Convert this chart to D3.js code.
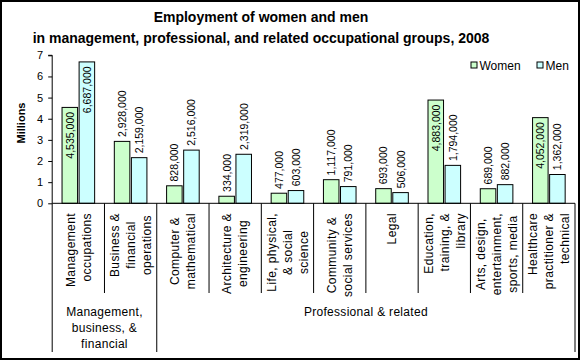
<!DOCTYPE html>
<html>
<head>
<meta charset="utf-8">
<script src="https://cdn.jsdelivr.net/npm/d3@7"></script>
<style>
  html, body { margin: 0; padding: 0; background: #fff; }
  svg { display: block; font-family: "Liberation Sans", Arial, sans-serif; }
</style>
</head>
<body>
<svg id="chart" width="580" height="360"></svg>
<script>
// ---- data ----
const categories = [
  ["Management", "occupations"],
  ["Business &", "financial", "operations"],
  ["Computer &", "mathematical"],
  ["Architecture &", "engineering"],
  ["Life, physical,", "& social", "science"],
  ["Community &", "social services"],
  ["Legal"],
  ["Education,", "training, &", "library"],
  ["Arts, design,", "entertainment,", "sports, media"],
  ["Healthcare", "practitioner &", "technical"]
];
const series = ["Women", "Men"];
const women = [4535000, 2928000, 828000, 334000, 477000, 1117000, 693000, 4883000, 689000, 4052000];
const men   = [6687000, 2159000, 2516000, 2319000, 603000, 791000, 506000, 1794000, 882000, 1362000];
const groups = [
  { lines: ["Management,", "business, &", "financial"], from: 0, to: 2 },
  { lines: ["Professional & related"], from: 2, to: 10 }
];
const yTicks = [0, 1, 2, 3, 4, 5, 6, 7];
const titleLines = ["Employment of women and men",
  "in management, professional, and related occupational groups, 2008"];
const yTitle = "Millions";

// ---- layout ----
const svg = d3.select("#chart");
const colors = { Women: "#ccffcc", Men: "#ccffff" };
const pLeft = 52.2, pRight = 575, pTop = 55.3, pBottom = 203.3;

svg.append("rect").attr("x", 1).attr("y", 1).attr("width", 578).attr("height", 358)
  .attr("fill", "#fff").attr("stroke", "#000").attr("stroke-width", 2);

const x0 = d3.scaleBand().domain(d3.range(categories.length)).range([pLeft, pRight]).padding(0);
const cw = x0.bandwidth();
const x1 = d3.scaleBand().domain(series).range([cw / 2 - 16.3, cw / 2 + 16.3]).paddingInner(0.09);
const y = d3.scaleLinear().domain([0, 7]).range([pBottom, pTop]);

// title
svg.append("g").selectAll("text").data(titleLines).join("text")
  .attr("x", 261).attr("y", (d, i) => 22 + i * 21)
  .attr("text-anchor", "middle").attr("font-weight", "bold").attr("font-size", "14px")
  .text(d => d);

// y axis
const yAxis = svg.append("g").attr("transform", `translate(${pLeft},0)`)
  .call(d3.axisLeft(y).tickValues(yTicks).tickSize(4).tickPadding(5).tickFormat(d3.format("d")));
yAxis.select(".domain").attr("stroke", "#000").attr("d", `M-4,${pTop}H0V${pBottom}`);
yAxis.selectAll(".tick line").attr("stroke", "#000");
yAxis.selectAll(".tick text").attr("font-size", "11px").attr("fill", "#000")
  .attr("font-family", "'Liberation Sans', Arial, sans-serif");

svg.append("text").attr("transform", `translate(25,123) rotate(-90)`)
  .attr("text-anchor", "middle").attr("font-weight", "bold").attr("font-size", "11px")
  .text(yTitle);

// bars
const rows = categories.map((c, i) => ({ i, values: [
  { key: "Women", v: women[i] }, { key: "Men", v: men[i] }] }));
const cat = svg.append("g").selectAll("g").data(rows).join("g")
  .attr("transform", d => `translate(${x0(d.i)},0)`);
cat.selectAll("rect").data(d => d.values).join("rect")
  .attr("x", d => x1(d.key)).attr("width", x1.bandwidth())
  .attr("y", d => y(d.v / 1e6)).attr("height", d => y(0) - y(d.v / 1e6))
  .attr("fill", d => colors[d.key]).attr("stroke", "#000").attr("stroke-width", 1);

// value labels
const fmt = d3.format(",");
cat.selectAll("text.val").data(d => d.values).join("text").attr("class", "val")
  .attr("font-size", "10.5px")
  .attr("transform", d => {
    const cx = x1(d.key) + x1.bandwidth() / 2 + 4;
    const inside = d.v > 3500000;
    return `translate(${cx},${y(d.v / 1e6) + (inside ? 4.5 : -4.3)}) rotate(-90)`;
  })
  .attr("text-anchor", d => d.v > 3500000 ? "end" : "start")
  .text(d => fmt(d.v));

// x axis line
svg.append("line").attr("x1", pLeft).attr("x2", pRight).attr("y1", pBottom).attr("y2", pBottom)
  .attr("stroke", "#000");

// dividers
const groupBounds = new Set(groups.flatMap(g => [g.from, g.to]));
d3.range(categories.length + 1).forEach(k => {
  const xx = k < categories.length ? x0(k) : pRight;
  svg.append("line").attr("x1", xx).attr("x2", xx).attr("y1", pBottom)
    .attr("y2", groupBounds.has(k) ? 352 : 293).attr("stroke", "#000");
});

// category labels
const endAligned = new Set([0, 7, 9]);
categories.forEach((lines, i) => {
  const cx = x0(i) + cw / 2;
  const n = lines.length;
  const g = svg.append("g");
  const texts = lines.map((l, k) => g.append("text").attr("font-size", "12px")
    .attr("letter-spacing", "0.4px").text(l));
  const widths = texts.map(t => t.node().getComputedTextLength());
  const maxW = d3.max(widths);
  texts.forEach((t, k) => {
    const lx = cx + (k - (n - 1) / 2) * 16 + 4.3;
    if (endAligned.has(i) || n === 1) {
      t.attr("text-anchor", "end").attr("transform", `translate(${lx},213) rotate(-90)`);
    } else {
      t.attr("text-anchor", "middle").attr("transform", `translate(${lx},${213 + maxW / 2}) rotate(-90)`);
    }
  });
});

// group labels
groups.forEach(gr => {
  const xa = x0(gr.from), xb = gr.to < categories.length ? x0(gr.to) : pRight;
  svg.append("g").selectAll("text").data(gr.lines).join("text")
    .attr("x", (xa + xb) / 2).attr("y", (d, k) => 316 + k * 16)
    .attr("text-anchor", "middle").attr("font-size", "12px").attr("letter-spacing", "0.3px")
    .text(d => d);
});

// legend
const lg = svg.append("g").selectAll("g").data(series).join("g")
  .attr("transform", (d, i) => `translate(${[471, 537][i]},62)`);
lg.append("rect").attr("width", 6).attr("height", 6).attr("fill", d => colors[d])
  .attr("stroke", "#000").attr("stroke-width", 1);
lg.append("text").attr("x", 8.5).attr("y", 7.5).attr("font-size", "12px").text(d => d);
</script>
</body>
</html>
